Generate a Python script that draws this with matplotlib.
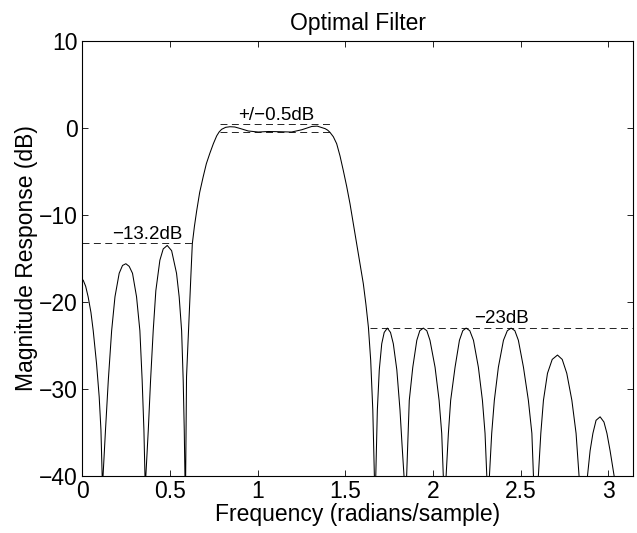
import matplotlib
matplotlib.use("Agg")
import matplotlib.pyplot as plt


# magnitude response (radians/sample, dB)
# points at -60 dB mark the nulls, they get clipped by the axes
freq = [
    0.000, 0.006, 0.020, 0.034, 0.050, 0.063, 0.082, 0.097, 0.107, 0.114, 0.1165,
    0.119, 0.133, 0.149, 0.168, 0.187, 0.211, 0.230, 0.249, 0.268, 0.287, 0.310,
    0.329, 0.342, 0.352, 0.358, 0.3605,
    0.363, 0.377, 0.390, 0.405, 0.420, 0.443, 0.462, 0.485, 0.510, 0.538, 0.553,
    0.567, 0.576, 0.582, 0.586, 0.588,
    0.590, 0.595, 0.603, 0.611, 0.620, 0.628, 0.640, 0.653, 0.670, 0.690, 0.708,
    0.728, 0.748, 0.767, 0.781, 0.795, 0.818, 0.843,
    0.870, 0.900, 0.947, 1.004, 1.061, 1.118, 1.194, 1.252, 1.309, 1.340, 1.385,
    1.400, 1.413, 1.432, 1.451, 1.470, 1.489, 1.508, 1.527, 1.546, 1.565, 1.584,
    1.603, 1.618, 1.632, 1.645, 1.657, 1.666, 1.670,
    1.674, 1.683, 1.694, 1.708, 1.722, 1.740, 1.758, 1.774, 1.794, 1.812, 1.824,
    1.835, 1.842,
    1.850, 1.865, 1.885, 1.908, 1.925, 1.945, 1.965, 1.983, 2.012, 2.035, 2.050,
    2.059, 2.067,
    2.075, 2.088, 2.101, 2.126, 2.151, 2.170, 2.189, 2.210, 2.231, 2.259, 2.282,
    2.297, 2.307, 2.314,
    2.322, 2.335, 2.350, 2.373, 2.402, 2.424, 2.446, 2.467, 2.487, 2.516, 2.544,
    2.564, 2.573, 2.587,
    2.601, 2.615, 2.630, 2.653, 2.680, 2.710, 2.737, 2.763, 2.792, 2.816, 2.833,
    2.857,
    2.881, 2.896, 2.912, 2.930, 2.953, 2.975, 2.992, 3.010, 3.033, 3.050,
]
mag_db = [
    -17.4, -17.5, -18.2, -19.4, -21.2, -23.3, -27.1, -30.9, -34.7, -40.0, -60.0,
    -40.0, -34.7, -29.0, -23.3, -19.4, -16.7, -15.8, -15.6, -15.9, -16.7, -19.4,
    -23.3, -29.0, -34.7, -40.0, -60.0,
    -40.0, -34.7, -29.0, -23.3, -18.7, -15.2, -13.9, -13.5, -14.1, -16.7, -19.4,
    -23.3, -29.0, -34.7, -40.0, -60.0,
    -40.0, -28.6, -24.8, -21.0, -16.9, -13.3, -11.3, -9.5, -7.4, -5.6, -4.1,
    -2.9, -1.8, -0.9, -0.45, -0.15, 0.08, 0.15,
    0.12, -0.05, -0.34, -0.46, -0.40, -0.42, -0.46, -0.2, 0.18, 0.22, -0.07,
    -0.25, -0.5, -1.0, -1.8, -3.2, -4.9, -6.7, -8.7, -11.0, -13.3, -15.6,
    -17.9, -20.3, -22.9, -26.7, -32.4, -40.0, -60.0,
    -40.0, -32.4, -27.8, -24.8, -23.5, -23.0, -23.5, -24.8, -27.8, -32.4, -36.5,
    -40.0, -60.0,
    -40.0, -31.3, -27.5, -24.4, -23.3, -23.0, -23.3, -24.4, -27.5, -31.3, -35.1,
    -40.0, -60.0,
    -40.0, -35.1, -31.3, -27.5, -24.4, -23.3, -23.0, -23.3, -24.4, -27.5, -31.3,
    -35.1, -40.0, -60.0,
    -40.0, -35.1, -31.3, -27.5, -24.4, -23.3, -23.0, -23.3, -24.4, -27.5, -31.3,
    -35.1, -40.0, -60.0,
    -40.0, -35.1, -31.3, -28.2, -26.6, -26.1, -26.6, -28.2, -31.3, -35.1, -40.0,
    -60.0,
    -40.0, -37.1, -35.1, -33.6, -33.2, -33.8, -35.1, -37.1, -40.0, -60.0,
]

# reference levels (dashed lines) and their labels
ripple_band = [0.786, 1.423]
ripple_levels = [0.5, -0.5]
stop1_band = [0.0, 0.633]
stop1_level = -13.2
stop2_band = [1.641, 3.1416]
stop2_level = -23.0

labels = ["\u221213.2dB", "+/\u22120.5dB", "\u221223dB"]
label_x = [0.372, 1.104, 2.392]
label_y = [-12.75, 0.95, -22.45]

x_ticks = [0, 0.5, 1, 1.5, 2, 2.5, 3]
x_ticklabels = ["0", "0.5", "1", "1.5", "2", "2.5", "3"]
y_ticks = [-40, -30, -20, -10, 0, 10]


plt.rcParams["font.family"] = ["Liberation Sans", "DejaVu Sans"]
plt.rcParams["lines.scale_dashes"] = False

fig = plt.figure(figsize=(6.37, 5.33), dpi=100)
ax = fig.add_axes([0.129, 0.107, 0.865, 0.816])

ax.plot(freq, mag_db, color="black", linewidth=0.75)

dash = (0, (5.0, 3.2))
for lvl in ripple_levels:
    ax.plot(ripple_band, [lvl, lvl], color="black", linewidth=0.6, linestyle=dash)
ax.plot(stop1_band, [stop1_level, stop1_level], color="black", linewidth=0.6, linestyle=dash)
ax.plot(stop2_band, [stop2_level, stop2_level], color="black", linewidth=0.6, linestyle=dash)

for txt, tx, ty in zip(labels, label_x, label_y):
    ax.text(tx, ty, txt, ha="center", va="baseline", fontsize=13.5)

ax.set_xlim(0, 3.1416)
ax.set_ylim(-40, 10)
ax.set_xticks(x_ticks)
ax.set_xticklabels(x_ticklabels)
ax.set_yticks(y_ticks)

ax.tick_params(direction="in", top=True, right=True, length=4, width=0.6,
               labelsize=16.5)
ax.tick_params(axis="x", pad=3)
ax.tick_params(axis="y", pad=3)
for sp in ax.spines.values():
    sp.set_linewidth(0.8)

ax.set_xlabel("Frequency (radians/sample)", fontsize=16.5, labelpad=0)
ax.set_ylabel("Magnitude Response (dB)", fontsize=16.5, labelpad=1)
ax.set_title("Optimal Filter", fontsize=16.5, pad=8)

fig.savefig("out.png", dpi=100)
